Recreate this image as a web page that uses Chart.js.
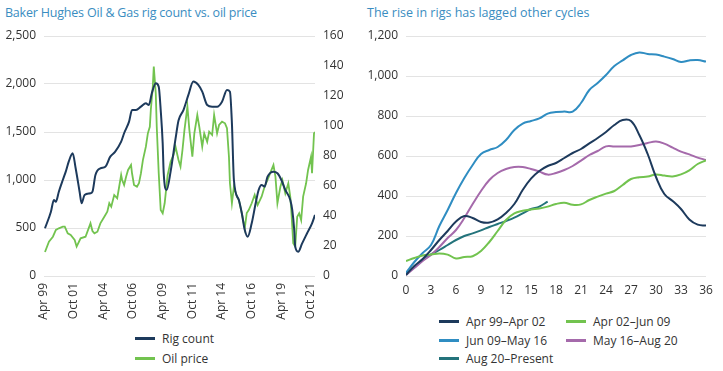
<!DOCTYPE html>
<html>
<head>
<meta charset="utf-8">
<script src="https://cdn.jsdelivr.net/npm/chart.js@4.4.0/dist/chart.umd.min.js"></script>
<style>
  body { margin: 0; background: #fff; font-family: 'Open Sans', sans-serif; }
  #wrap { position: relative; width: 723px; height: 371px; overflow: hidden; }
  .title { position: absolute; top: 4px; font-size: 12.5px; color: #3a8dc1; white-space: nowrap; }
  canvas { position: absolute; top: 0; }
  .leg { position: absolute; font-size: 12px; color: #333; white-space: nowrap; line-height: 16px; }
  .leg i { display: inline-block; width: 20px; height: 3px; vertical-align: middle; margin-right: 7px; margin-top: -2px; }
</style>
</head>
<body>
<div id="wrap">
  <div class="title" style="left:5px; letter-spacing:-0.2px">Baker Hughes Oil &amp; Gas rig count vs. oil price</div>
  <div class="title" style="left:367px">The rise in rigs has lagged other cycles</div>
  <canvas id="left" width="360" height="330" style="left:0"></canvas>
  <canvas id="right" width="363" height="300" style="left:360px"></canvas>
  <div id="legends"></div>
</div>
<script>
// left chart: months since Apr 99
const xTickMonths = [0, 30, 60, 90, 120, 150, 180, 210, 240, 270];
const xTickLabels = ['Apr 99', 'Oct 01', 'Apr 04', 'Oct 06', 'Apr 09', 'Oct 11', 'Apr 14', 'Oct 16', 'Apr 19', 'Oct 21'];

const rigMonths = [1, 7, 10, 12, 15, 19, 22, 25, 29, 32, 36, 38, 41, 47, 49, 52, 57, 62, 67, 72, 78, 81, 86, 89, 93, 98, 103, 106, 109, 113, 116, 118, 120, 121, 124, 128, 133, 136, 141, 146, 151, 156, 160, 165, 170, 175, 180, 185, 188, 190, 192, 197, 200, 203, 206, 210, 214, 217, 220, 223, 226, 232, 236, 240, 244, 249, 251, 253, 254, 257, 261, 266, 271, 274];
const rigCount = [497, 670, 792, 774, 878, 1000, 1087, 1191, 1278, 1122, 878, 757, 844, 861, 878, 1052, 1122, 1139, 1243, 1295, 1399, 1487, 1608, 1729, 1729, 1764, 1799, 1781, 1903, 2007, 1972, 1729, 1382, 1080, 896, 1087, 1430, 1620, 1729, 1886, 2025, 1990, 1920, 1781, 1764, 1764, 1816, 1938, 1920, 1590, 1000, 792, 653, 479, 410, 549, 757, 896, 948, 930, 1035, 1087, 1070, 1000, 896, 792, 688, 479, 306, 253, 340, 445, 549, 636];

const oilMonths = [1, 5, 9, 12, 15, 19, 21, 24, 27, 31, 33, 37, 42, 47, 49, 51, 54, 57, 61, 64, 66, 68, 71, 74, 76, 78, 79, 81, 83, 85, 88, 89, 91, 94, 96, 98, 100, 103, 105, 107, 108, 110, 111, 113, 114, 116, 118, 120, 122, 125, 128, 131, 133, 136, 138, 140, 142, 145, 147, 150, 152, 155, 157, 160, 162, 165, 167, 170, 172, 175, 177, 180, 183, 185, 187, 188, 190, 192, 195, 197, 200, 202, 203, 205, 207, 210, 213, 216, 220, 223, 226, 230, 232, 234, 236, 239, 241, 244, 247, 249, 250, 252, 254, 256, 258, 260, 262, 265, 267, 270, 271, 273, 274];
const oilPrice = [16, 22.9, 26.2, 30.7, 31.8, 32.9, 32.9, 28.4, 27.3, 24, 19.6, 25.1, 26.2, 35.1, 30, 28.4, 29.5, 35.1, 39.5, 42.9, 48.5, 46.2, 54, 51.8, 59.5, 67.3, 64, 60.7, 66.2, 70.7, 74, 68.5, 60.7, 59.5, 61.8, 68.5, 77.3, 86.2, 95.1, 99.5, 110.7, 126.2, 139.6, 121.8, 99.5, 68.5, 44, 41.8, 48.5, 67.3, 76.2, 80.7, 86.2, 77.3, 72.9, 84, 97.3, 112.9, 97.3, 79.5, 95.1, 107.3, 99.5, 86.2, 95.1, 89.5, 96.2, 94, 107.3, 95.1, 100.7, 102.9, 101.8, 98.5, 79.5, 61.8, 48.5, 59.5, 52.9, 50.7, 41.8, 35.1, 31.8, 42, 44, 48.5, 54, 47.3, 52.9, 59.5, 64, 70.7, 74, 66.2, 48.5, 59.5, 64, 55.1, 61.8, 52.9, 44, 21.8, 19.6, 39.5, 41.8, 37.3, 52.9, 61.8, 70.7, 79.5, 68.5, 95.1, 96];

// right chart: months from start of each cycle
const cycleMonths = [0, 1, 2, 3, 4, 5, 6, 7, 8, 9, 10, 11, 12, 13, 14, 15, 16, 17, 18, 19, 20, 21, 22, 23, 24, 25, 26, 27, 28, 29, 30, 31, 32, 33, 34, 35, 36];
const cycleNames = ['Apr 99\u2013Apr 02', 'Apr 02\u2013Jun 09', 'Jun 09\u2013May 16', 'May 16\u2013Aug 20', 'Aug 20\u2013Present'];
const rigs9902 = [5, 50, 85, 130, 180, 225, 272, 300, 290, 270, 267, 283, 315, 360, 430, 487, 525, 550, 565, 590, 615, 635, 663, 690, 720, 755, 780, 775, 705, 610, 495, 410, 375, 335, 283, 257, 252];
const rigs0209 = [75, 90, 103, 107, 113, 107, 88, 95, 99, 125, 170, 225, 280, 313, 326, 333, 338, 347, 360, 366, 356, 358, 380, 397, 412, 425, 455, 485, 494, 497, 508, 502, 498, 508, 528, 560, 578];
const rigs0916 = [15, 70, 115, 155, 250, 330, 415, 490, 555, 610, 630, 645, 680, 730, 762, 775, 788, 812, 820, 822, 822, 865, 930, 965, 1005, 1050, 1078, 1105, 1118, 1110, 1107, 1097, 1085, 1070, 1078, 1080, 1072];
const rigs1620 = [5, 40, 75, 105, 145, 190, 230, 290, 360, 425, 480, 515, 535, 545, 545, 535, 522, 507, 515, 530, 550, 577, 605, 625, 648, 648, 647, 648, 655, 665, 672, 662, 642, 622, 608, 592, 580];
const rigs20now = [10, 45, 80, 108, 130, 155, 180, 200, 213, 228, 245, 260, 275, 292, 313, 335, 347, 372];

const NAVY = '#1d3a5c', GREEN = '#72c34f', BLUE = '#2f8dc2', PURPLE = '#a56aab', TEAL = '#23737b';
const cycleColors = [NAVY, GREEN, BLUE, PURPLE, TEAL];

Chart.defaults.font.family = "'Open Sans', sans-serif";
Chart.defaults.font.size = 12;
Chart.defaults.color = '#333';

function pts(xs, ys) {
  return ys.map((y, i) => ({ x: xs[i], y: y }));
}

new Chart(document.getElementById('left'), {
  type: 'line',
  data: {
    datasets: [
      { label: 'Rig count', data: pts(rigMonths, rigCount), borderColor: NAVY, borderWidth: 2, pointRadius: 0, cubicInterpolationMode: 'monotone', yAxisID: 'y' },
      { label: 'Oil price', data: pts(oilMonths, oilPrice), borderColor: GREEN, borderWidth: 1.8, pointRadius: 0, tension: 0, yAxisID: 'y1' }
    ]
  },
  options: {
    responsive: false,
    animation: false,
    layout: { padding: { top: 36 } },
    plugins: { legend: { display: false }, tooltip: { enabled: false } },
    scales: {
      x: {
        type: 'linear', min: 0, max: 274,
        grid: { display: false, drawTicks: false }, border: { display: false },
        afterBuildTicks: s => { s.ticks = xTickMonths.map(v => ({ value: v })); },
        afterFit: s => { s.height = 54; },
        ticks: { autoSkip: false, maxRotation: 90, minRotation: 90, padding: 7, callback: (v, i) => xTickLabels[i] }
      },
      y: {
        position: 'left', min: 0, max: 2500,
        ticks: { stepSize: 500, padding: 8, callback: v => v.toLocaleString('en-US') },
        grid: { color: '#e3e3e3', drawTicks: false }, border: { display: false },
        afterFit: s => { s.width = 44; }
      },
      y1: {
        position: 'right', min: 0, max: 160,
        ticks: { stepSize: 20, padding: 8 },
        grid: { display: false, drawTicks: false }, border: { display: false },
        afterFit: s => { s.width = 45; }
      }
    }
  }
});

const cycleSeries = [rigs9902, rigs0209, rigs0916, rigs1620, rigs20now];

new Chart(document.getElementById('right'), {
  type: 'line',
  data: {
    datasets: cycleSeries.map((vals, k) => ({
      label: cycleNames[k], data: pts(cycleMonths, vals),
      borderColor: cycleColors[k], borderWidth: 2, pointRadius: 0, tension: 0.4
    }))
  },
  options: {
    responsive: false,
    animation: false,
    layout: { padding: { top: 36, right: 17 } },
    plugins: { legend: { display: false }, tooltip: { enabled: false } },
    scales: {
      x: {
        type: 'linear', min: 0, max: 36,
        grid: { display: false, drawTicks: false }, border: { display: false },
        ticks: { stepSize: 3, padding: 7, maxRotation: 0 },
        afterFit: s => { s.height = 24; }
      },
      y: {
        min: 0, max: 1200,
        ticks: { stepSize: 200, padding: 8, callback: v => v.toLocaleString('en-US') },
        grid: { color: '#e3e3e3', drawTicks: false }, border: { display: false },
        afterFit: s => { s.width = 46; }
      }
    }
  }
});

// legends as html, laid out like the original
const legendItems = [
  { text: 'Rig count', color: NAVY, x: 135, y: 339 },
  { text: 'Oil price', color: GREEN, x: 135, y: 359 },
  { text: cycleNames[0], color: cycleColors[0], x: 439, y: 322 },
  { text: cycleNames[1], color: cycleColors[1], x: 566, y: 322 },
  { text: cycleNames[2], color: cycleColors[2], x: 439, y: 341 },
  { text: cycleNames[3], color: cycleColors[3], x: 566, y: 341 },
  { text: cycleNames[4], color: cycleColors[4], x: 439, y: 359 }
];
const holder = document.getElementById('legends');
legendItems.forEach(it => {
  const d = document.createElement('div');
  d.className = 'leg';
  d.style.left = it.x + 'px';
  d.style.top = (it.y - 8) + 'px';
  d.innerHTML = '<i style="background:' + it.color + '"></i>' + it.text;
  holder.appendChild(d);
});
</script>
</body>
</html>
